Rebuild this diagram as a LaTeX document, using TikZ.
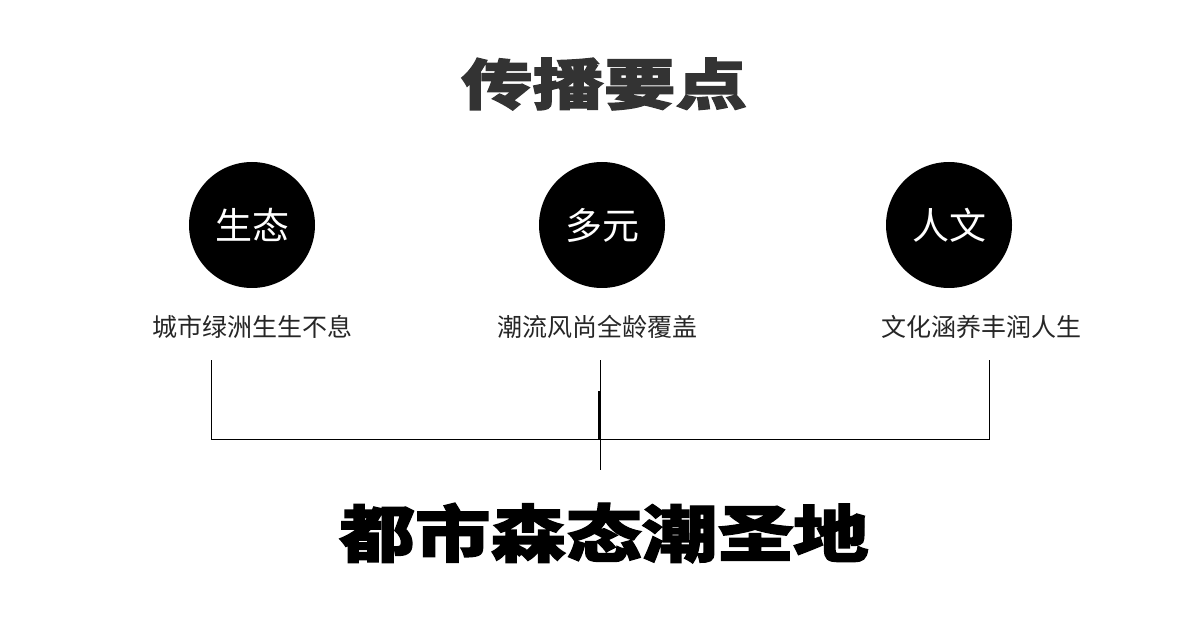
\documentclass[tikz,border=0pt]{standalone}
\usepackage{fontspec}
\newfontfamily\cjk{Noto Sans CJK SC}
\newfontfamily\cjkheavy{Noto Sans CJK SC}[UprightFeatures={FakeBold=2.2,FakeStretch=1.3},BoldFeatures={FakeBold=2.2,FakeStretch=1.3}]
\newfontfamily\cjkheavyb{Noto Sans CJK SC}[UprightFeatures={FakeBold=2.2,FakeStretch=1.22},BoldFeatures={FakeBold=2.2,FakeStretch=1.22}]
\definecolor{titlegray}{HTML}{333333}
\begin{document}
\begin{tikzpicture}[x=1pt,y=-1pt,
  dot/.style={circle,fill=black,minimum size=126pt,inner sep=0pt,text=white,font=\cjk\fontsize{37}{40}\selectfont},
  caption/.style={inner sep=0pt,font=\cjk\fontsize{25}{28}\selectfont,text=black!85},
  link/.style={draw=black,line width=1pt},
  bigtitle/.style={inner sep=0pt}]
\useasboundingbox (0,0) rectangle (1200,639);
\node[bigtitle,text=titlegray,font=\cjkheavy\bfseries\fontsize{55}{55}\selectfont] (title) at (604,84) {传播要点};
\node[dot] (c1) at (252,225) {生态};
\node[dot] (c2) at (602,225) {多元};
\node[dot] (c3) at (949,225) {人文};
\node[caption] (t1) at (252,327) {城市绿洲生生不息};
\node[caption] (t2) at (597,327) {潮流风尚全龄覆盖};
\node[caption] (t3) at (981,327) {文化涵养丰润人生};
\coordinate (a1) at (211,360);
\coordinate (b1) at (211,439);
\coordinate (a2) at (600,360);
\coordinate (b2) at (600,470);
\coordinate (m2) at (599,391);
\coordinate (n2) at (599,439);
\coordinate (a3) at (989,360);
\coordinate (b3) at (989,439);
\draw[link] (a1) -- (b1) -- (b3) -- (a3);
\draw[link] (a2) -- (b2);
\draw[draw=black,line width=1.8pt] (m2) -- (n2);
\node[bigtitle,text=black,font=\cjkheavyb\bfseries\fontsize{62}{62}\selectfont] (sub) at (604,533) {都市森态潮圣地};
\end{tikzpicture}
\end{document}
